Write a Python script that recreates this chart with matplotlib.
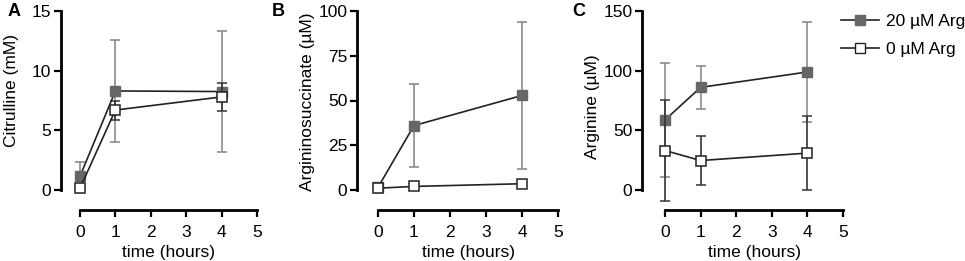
import matplotlib
matplotlib.use("Agg")
import matplotlib.pyplot as plt
from matplotlib.lines import Line2D

plt.rcParams['font.family'] = ['Liberation Sans', 'DejaVu Sans']

time = [0, 1, 4]
series = ["20 µM Arg", "0 µM Arg"]

# Panel A: Citrulline (mM)
cit_20 = [1.15, 8.3, 8.25]
cit_20_err = [1.2, 4.25, 5.1]
cit_0 = [0.15, 6.7, 7.8]
cit_0_err = [0.1, 0.8, 1.2]

# Panel B: Argininosuccinate (µM)
asa_20 = [1.5, 36.0, 52.8]
asa_20_err = [0.5, 23.0, 40.8]
asa_0 = [1.0, 2.0, 3.5]
asa_0_err = [0.3, 0.5, 1.5]

# Panel C: Arginine (µM)
arg_20 = [58.7, 86.0, 98.9]
arg_20_err = [48.0, 18.0, 42.0]
arg_0 = [33.1, 24.7, 30.9]
arg_0_err = [42.4, 20.8, 30.9]

panels = [
    ("A", "Citrulline (mM)", [0, 5, 10, 15], cit_20, cit_20_err, cit_0, cit_0_err),
    ("B", "Argininosuccinate (µM)", [0, 25, 50, 75, 100], asa_20, asa_20_err, asa_0, asa_0_err),
    ("C", "Arginine (µM)", [0, 50, 100, 150], arg_20, arg_20_err, arg_0, arg_0_err),
]

W, H = 965, 261
fig = plt.figure(figsize=(W / 100, H / 100), dpi=100)

# pixel geometry: spine x, x=0 px, x=5 px
geo = [(61, 80, 257), (357, 378, 558), (642, 665, 843)]
y_top, y_zero, y_axis = 11, 190, 210
letter_x = [8, 272, 572]
ylabel_y = [90, 102, 107]   # vertical centre of y labels (px from top)

fill_c = "#666666"
line_c = "#222222"
err_fill = "#8c8c8c"
err_open = "#333333"

for (letter, ylabel, yticks, m20, e20, m0, e0), (sx, x0, x5), lx, ly in zip(panels, geo, letter_x, ylabel_y):
    wpx, hpx = x5 - sx, y_axis - y_top
    ax = fig.add_axes([sx / W, 1 - y_axis / H, wpx / W, hpx / H])
    ymax = yticks[-1]
    ax.set_xlim(-(x0 - sx) / (x5 - x0) * 5, 5)
    ax.set_ylim(-(y_axis - y_zero) / (y_zero - y_top) * ymax, ymax)

    ax.errorbar(time, m20, yerr=e20, color=line_c, ecolor=err_fill, elinewidth=1.2,
                capsize=3.5, capthick=1.2, lw=1.2, marker="s", ms=7.5,
                mfc=fill_c, mec=fill_c, clip_on=False, zorder=3)
    ax.errorbar(time, m0, yerr=e0, color=line_c, ecolor=err_open, elinewidth=1.2,
                capsize=3.5, capthick=1.2, lw=1.2, marker="s", ms=7.5,
                mfc="white", mec=line_c, mew=1.1, clip_on=False, zorder=4)

    for s in ("top", "right"):
        ax.spines[s].set_visible(False)
    ax.spines["left"].set_bounds(0, ymax)
    ax.spines["bottom"].set_bounds(0, 5)
    for s in ("left", "bottom"):
        ax.spines[s].set_linewidth(2.0)
        ax.spines[s].set_color("black")
    ax.set_xticks([0, 1, 2, 3, 4, 5])
    ax.set_yticks(yticks)
    ax.tick_params(axis="both", direction="out", length=5, width=1.6,
                   labelsize=12.5, colors="black")
    ax.tick_params(axis="y", pad=2)
    ax.tick_params(axis="x", pad=6)
    ax.set_xlabel("time (hours)", fontsize=12.5)
    ax.xaxis.set_label_coords(((x0 + x5) / 2 - sx) / wpx, -(252 - y_axis) / hpx)
    ax.xaxis.label.set_va("center")
    ax.set_ylabel(ylabel, fontsize=12.5)
    ax.yaxis.set_label_coords(-42 / wpx, (y_axis - ly) / hpx)
    fig.text(lx / W, 1 - 12 / H, letter, fontsize=13, fontweight="bold",
             ha="left", va="center")

handles = [
    Line2D([], [], color=line_c, lw=1.2, marker="s", ms=7.5, mfc=fill_c, mec=fill_c),
    Line2D([], [], color=line_c, lw=1.2, marker="s", ms=7.5, mfc="white", mec=line_c),
]
fig.legend(handles, series, loc="upper left", bbox_to_anchor=(841 / W, 1 - 14 / H),
           frameon=False, fontsize=12.5, handlelength=2.2, handletextpad=0.4,
           labelspacing=0.75, borderaxespad=0, borderpad=0)

fig.savefig("out.png", dpi=100)
